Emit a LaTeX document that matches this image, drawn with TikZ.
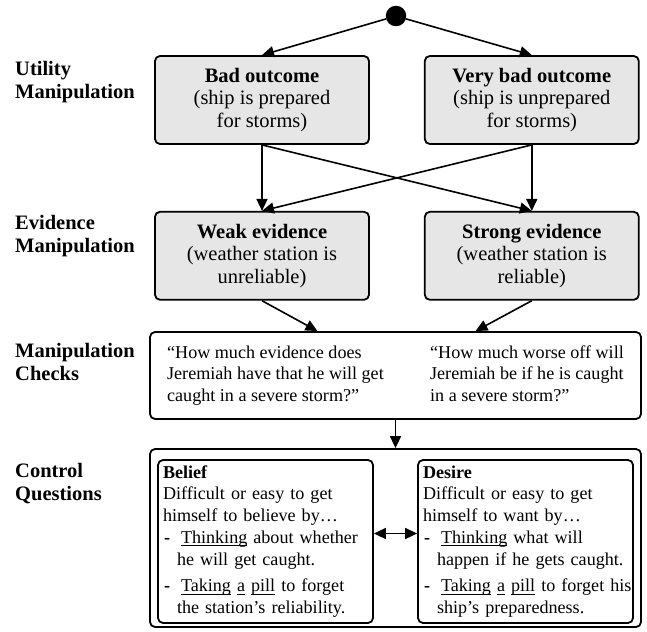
\documentclass[tikz,border=0pt]{standalone}
\usepackage{fontspec}
\setmainfont{Liberation Serif}
\usepackage{xcolor}
\usepackage{tikz}
\usetikzlibrary{arrows.meta, positioning, calc}

\definecolor{boxgray}{HTML}{E6E6E6}
\newcommand{\bigtext}{\fontsize{20.5}{22.5}\selectfont}
\newcommand{\labeltext}{\fontsize{20.5}{23}\selectfont}
\newcommand{\smalltext}{\fontsize{18.1}{21.7}\selectfont}
\newcommand{\uword}[1]{\setbox0\hbox{#1}\rlap{\rule[-3pt]{\wd0}{1.1pt}}\box0\relax}
\newcommand{\dashitem}{\makebox[18pt][l]{\hspace*{1pt}\textbf{-}}}

\begin{document}
\begin{tikzpicture}[
    x=1pt, y=-1pt,
    node distance=54pt,
    cond/.style={rectangle, draw, rounded corners=5pt, fill=boxgray, line width=1.8pt, minimum width=214pt, minimum height=88pt, inner sep=0pt, align=center, font=\bigtext},
    panel/.style={rectangle, draw, rounded corners=5pt, line width=1.8pt, inner sep=0pt},
    qbox/.style={panel, minimum width=215pt, minimum height=163pt, text width=205pt, inner xsep=5pt, align=left, font=\smalltext},
    rowlabel/.style={anchor=west, align=left, inner sep=0pt, font=\labeltext\bfseries},
    arrow/.style={-{Triangle[length=12pt, width=11pt]}, line width=1.6pt},
    twoway/.style={{Triangle[length=12pt, width=11pt]}-{Triangle[length=12pt, width=11pt]}, line width=1.6pt}
]
\useasboundingbox (0,0) rectangle (647,631);

% Start point
\node[circle, fill, inner sep=0pt, minimum size=20.5pt] (start) at (396,16) {};

% Utility manipulation
\node[cond] (bad) at (262,100) {\textbf{Bad outcome}\\(ship is prepared\\for storms)};
\node[cond, right=54pt of bad] (verybad) {\textbf{Very bad outcome}\\(ship is unprepared\\for storms)};

% Evidence manipulation
\node[cond, below=66pt of bad] (weak) {\textbf{Weak evidence}\\(weather station is\\unreliable)};
\node[cond, below=66pt of verybad] (strong) {\textbf{Strong evidence}\\(weather station is\\reliable)};

% Manipulation checks
\node[panel, minimum width=491pt, minimum height=87pt, align=left, font=\smalltext] (checks) at (395.5,375.5)
    {\makebox[263pt][l]{\begin{tabular}{@{}l@{}}``How much evidence does\\Jeremiah have that he will get\\caught in a severe storm?''\end{tabular}}%
     \begin{tabular}{@{}l@{}}``How much worse off will\\Jeremiah be if he is caught\\in a severe storm?''\end{tabular}};

% Control questions
\node[panel, minimum width=491pt, minimum height=178pt] (control) at (395.5,538) {};
\node[qbox] (belief) at (265.5,541.5) {\begin{tabular}{@{}l@{}}
    \textbf{Belief}\\
    Difficult or easy to get\\
    himself to believe by\ldots\\
    \dashitem\uword{Thinking} about whether\\
    \hspace*{14pt}he will get caught.\\[5pt]
    \dashitem\uword{Taking} \uword{a} \uword{pill} to forget\\
    \hspace*{14pt}the station's reliability.
    \end{tabular}};
\node[qbox] (desire) at (525.5,541.5) {\begin{tabular}{@{}l@{}}
    \textbf{Desire}\\
    Difficult or easy to get\\
    himself to want by\ldots\\
    \dashitem\uword{Thinking} what will\\
    \hspace*{14pt}happen if he gets caught.\\[5pt]
    \dashitem\uword{Taking} \uword{a} \uword{pill} to forget his\\
    \hspace*{14pt}ship's preparedness.
    \end{tabular}};

% Row labels
\node[rowlabel] (utilitylabel) at (15,82.5) {Utility\\Manipulation};
\node[rowlabel] (evidencelabel) at (15,236) {Evidence\\Manipulation};
\node[rowlabel] (checkslabel) at (15,362) {Manipulation\\Checks};
\node[rowlabel] (controllabel) at (15,483.5) {Control\\Questions};

% Arrows
\draw[arrow] (start) -- (bad.north);
\draw[arrow] (start) -- (verybad.north);
\draw[arrow] (bad.south) -- (weak.north);
\draw[arrow] (bad.south) -- (strong.north);
\draw[arrow] (verybad.south) -- (weak.north);
\draw[arrow] (verybad.south) -- (strong.north);
\draw[arrow] (weak.south) -- ([xshift=-78pt]checks.north);
\draw[arrow] (strong.south) -- ([xshift=80pt]checks.north);
\draw[arrow] (checks) -- (control);
\draw[twoway] ([yshift=8pt]belief.east) -- ([yshift=8pt]desire.west);

\end{tikzpicture}
\end{document}
